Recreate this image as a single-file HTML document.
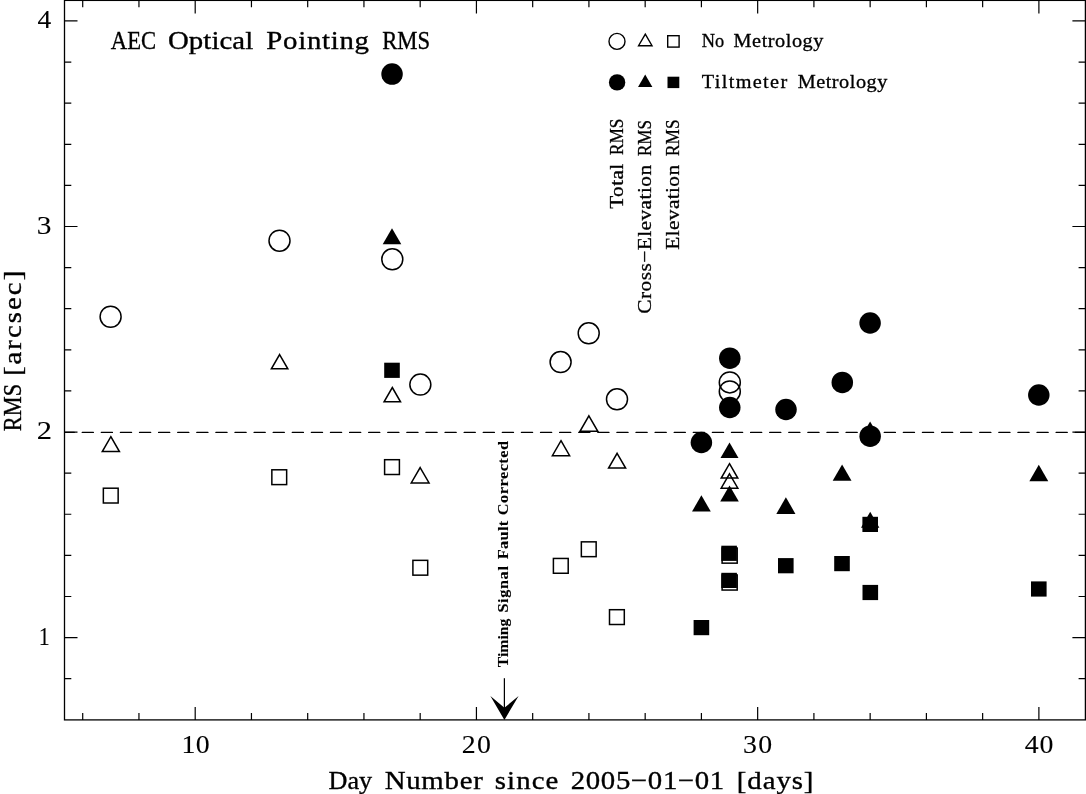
<!DOCTYPE html>
<html><head><meta charset="utf-8"><style>
html,body{margin:0;padding:0;background:#fff;width:1086px;height:794px;overflow:hidden;}
svg{display:block;filter:grayscale(100%);}
</style></head><body>
<svg width="1086" height="794" viewBox="0 0 1086 794">
<defs><clipPath id="pc"><rect x="64.5" y="0" width="1020.9000000000001" height="794"/></clipPath></defs>
<rect width="1086" height="794" fill="#fff"/>
<rect x="64.5" y="0.4" width="1020.90" height="719.50" fill="none" stroke="#000" stroke-width="1.3"/>
<path d="M82.71 719.9V713.10M82.71 0.4V7.20M138.95 719.9V713.10M138.95 0.4V7.20M195.20 719.9V706.90M195.20 0.4V13.40M251.45 719.9V713.10M251.45 0.4V7.20M307.69 719.9V713.10M307.69 0.4V7.20M363.94 719.9V713.10M363.94 0.4V7.20M420.18 719.9V713.10M420.18 0.4V7.20M476.43 719.9V706.90M476.43 0.4V13.40M532.68 719.9V713.10M532.68 0.4V7.20M588.92 719.9V713.10M588.92 0.4V7.20M645.17 719.9V713.10M645.17 0.4V7.20M701.41 719.9V713.10M701.41 0.4V7.20M757.66 719.9V706.90M757.66 0.4V13.40M813.91 719.9V713.10M813.91 0.4V7.20M870.15 719.9V713.10M870.15 0.4V7.20M926.40 719.9V713.10M926.40 0.4V7.20M982.64 719.9V713.10M982.64 0.4V7.20M1038.89 719.9V706.90M1038.89 0.4V13.40M64.5 678.71H71.30M1085.4 678.71H1078.60M64.5 637.60H77.50M1085.4 637.60H1072.40M64.5 596.49H71.30M1085.4 596.49H1078.60M64.5 555.38H71.30M1085.4 555.38H1078.60M64.5 514.27H71.30M1085.4 514.27H1078.60M64.5 473.16H71.30M1085.4 473.16H1078.60M64.5 432.05H77.50M1085.4 432.05H1072.40M64.5 390.94H71.30M1085.4 390.94H1078.60M64.5 349.83H71.30M1085.4 349.83H1078.60M64.5 308.72H71.30M1085.4 308.72H1078.60M64.5 267.61H71.30M1085.4 267.61H1078.60M64.5 226.50H77.50M1085.4 226.50H1072.40M64.5 185.39H71.30M1085.4 185.39H1078.60M64.5 144.28H71.30M1085.4 144.28H1078.60M64.5 103.17H71.30M1085.4 103.17H1078.60M64.5 62.06H71.30M1085.4 62.06H1078.60M64.5 20.95H77.50M1085.4 20.95H1072.40" stroke="#000" stroke-width="1.2" fill="none"/>
<line x1="63.15" y1="432.4" x2="1085.4" y2="432.4" stroke="#000" stroke-width="1.35" stroke-linecap="round" stroke-dasharray="11.1 7.996" clip-path="url(#pc)"/>
<circle cx="110.6" cy="316.75" r="10.5" fill="none" stroke="#000" stroke-width="1.5"/>
<circle cx="279.5" cy="240.7" r="10.5" fill="none" stroke="#000" stroke-width="1.5"/>
<circle cx="392.3" cy="259.3" r="10.5" fill="none" stroke="#000" stroke-width="1.5"/>
<circle cx="420.35" cy="384.6" r="10.5" fill="none" stroke="#000" stroke-width="1.5"/>
<circle cx="560.6" cy="362.05" r="10.5" fill="none" stroke="#000" stroke-width="1.5"/>
<circle cx="588.7" cy="333.3" r="10.5" fill="none" stroke="#000" stroke-width="1.5"/>
<circle cx="617" cy="399.3" r="10.5" fill="none" stroke="#000" stroke-width="1.5"/>
<circle cx="729.8" cy="382.4" r="10.5" fill="none" stroke="#000" stroke-width="1.5"/>
<circle cx="729.8" cy="391.5" r="10.5" fill="none" stroke="#000" stroke-width="1.5"/>
<path d="M110.85 436.70L119.42 451.55L102.28 451.55Z" fill="none" stroke="#000" stroke-width="1.5" stroke-linejoin="miter"/>
<path d="M279.60 354.60L287.83 368.85L271.37 368.85Z" fill="none" stroke="#000" stroke-width="1.5" stroke-linejoin="miter"/>
<path d="M392.30 387.50L400.53 401.75L384.07 401.75Z" fill="none" stroke="#000" stroke-width="1.5" stroke-linejoin="miter"/>
<path d="M420.15 467.50L429.07 482.95L411.23 482.95Z" fill="none" stroke="#000" stroke-width="1.5" stroke-linejoin="miter"/>
<path d="M561.00 440.70L569.63 455.65L552.37 455.65Z" fill="none" stroke="#000" stroke-width="1.5" stroke-linejoin="miter"/>
<path d="M588.90 415.80L597.82 431.25L579.98 431.25Z" fill="none" stroke="#000" stroke-width="1.5" stroke-linejoin="miter"/>
<path d="M617.10 453.30L625.62 468.05L608.58 468.05Z" fill="none" stroke="#000" stroke-width="1.5" stroke-linejoin="miter"/>
<path d="M729.50 463.70L737.78 478.05L721.22 478.05Z" fill="none" stroke="#000" stroke-width="1.5" stroke-linejoin="miter"/>
<path d="M729.50 473.80L737.84 488.25L721.16 488.25Z" fill="none" stroke="#000" stroke-width="1.5" stroke-linejoin="miter"/>
<rect x="103.35" y="488.20" width="14.80" height="14.80" fill="none" stroke="#000" stroke-width="1.5"/>
<rect x="271.85" y="469.80" width="14.80" height="14.80" fill="none" stroke="#000" stroke-width="1.5"/>
<rect x="384.60" y="459.70" width="14.80" height="14.80" fill="none" stroke="#000" stroke-width="1.5"/>
<rect x="412.90" y="560.35" width="14.80" height="14.80" fill="none" stroke="#000" stroke-width="1.5"/>
<rect x="553.40" y="558.45" width="14.80" height="14.80" fill="none" stroke="#000" stroke-width="1.5"/>
<rect x="581.35" y="541.85" width="14.80" height="14.80" fill="none" stroke="#000" stroke-width="1.5"/>
<rect x="609.50" y="609.70" width="14.80" height="14.80" fill="none" stroke="#000" stroke-width="1.5"/>
<rect x="722.10" y="548.05" width="15.10" height="15.10" fill="none" stroke="#000" stroke-width="1.5"/>
<rect x="722.10" y="574.95" width="15.10" height="15.10" fill="none" stroke="#000" stroke-width="1.5"/>
<path d="M392.00 228.20L401.30 244.30L382.70 244.30Z" fill="#000"/>
<path d="M701.40 495.30L710.81 511.60L691.99 511.60Z" fill="#000"/>
<path d="M729.50 442.40L738.51 458.00L720.49 458.00Z" fill="#000"/>
<path d="M729.50 485.50L738.80 501.60L720.20 501.60Z" fill="#000"/>
<path d="M785.90 497.30L795.48 513.90L776.32 513.90Z" fill="#000"/>
<path d="M842.10 464.50L851.51 480.80L832.69 480.80Z" fill="#000"/>
<path d="M870.10 421.50L879.40 437.60L860.80 437.60Z" fill="#000"/>
<path d="M870.20 511.80L879.38 527.70L861.02 527.70Z" fill="#000"/>
<path d="M1038.80 464.80L1048.27 481.20L1029.33 481.20Z" fill="#000"/>
<rect x="384.20" y="362.70" width="15.60" height="15.20" fill="#000"/>
<rect x="693.60" y="620.00" width="15.60" height="15.20" fill="#000"/>
<rect x="721.30" y="545.70" width="15.60" height="15.20" fill="#000"/>
<rect x="721.30" y="572.80" width="15.60" height="15.20" fill="#000"/>
<rect x="778.00" y="558.10" width="15.60" height="15.20" fill="#000"/>
<rect x="834.20" y="556.00" width="15.60" height="15.20" fill="#000"/>
<rect x="862.40" y="516.80" width="15.60" height="15.20" fill="#000"/>
<rect x="862.50" y="584.90" width="15.60" height="15.20" fill="#000"/>
<rect x="1031.00" y="581.40" width="15.60" height="15.20" fill="#000"/>
<circle cx="392.05" cy="74.1" r="10.75" fill="#000"/>
<circle cx="701.4" cy="442.5" r="10.75" fill="#000"/>
<circle cx="729.8" cy="358.15" r="10.75" fill="#000"/>
<circle cx="729.8" cy="407.5" r="10.75" fill="#000"/>
<circle cx="786" cy="409.5" r="10.75" fill="#000"/>
<circle cx="842.3" cy="382.4" r="10.75" fill="#000"/>
<circle cx="870.1" cy="323" r="10.75" fill="#000"/>
<circle cx="870.15" cy="436.2" r="10.75" fill="#000"/>
<circle cx="1038.8" cy="395" r="10.75" fill="#000"/>
<circle cx="617" cy="41.4" r="8.0" fill="none" stroke="#000" stroke-width="1.4"/>
<path d="M645.30 34.10L652.03 45.75L638.57 45.75Z" fill="none" stroke="#000" stroke-width="1.4" stroke-linejoin="miter"/>
<rect x="667.70" y="35.70" width="11.40" height="11.40" fill="none" stroke="#000" stroke-width="1.4"/>
<circle cx="617.1" cy="82.4" r="8.2" fill="#000"/>
<path d="M645.20 74.60L652.36 87.00L638.04 87.00Z" fill="#000"/>
<rect x="667.50" y="76.70" width="11.80" height="11.40" fill="#000"/>
<line x1="504.4" y1="678.2" x2="504.4" y2="712" stroke="#000" stroke-width="1.25"/>
<path d="M504.4 719.9L490.4 696L504.4 707.8L518.6 696Z" fill="#000"/>
<g transform="translate(0 49)" font-family="Liberation Serif" font-size="26.2" fill="#000" stroke="#000" stroke-width="0.35"><text transform="translate(110.90 0) scale(0.8649 1)" x="-0.06" y="0" textLength="52.40" lengthAdjust="spacing">AEC</text><text transform="translate(168.90 0) scale(1.1000 1)" x="-0.92" y="0" textLength="77.63" lengthAdjust="spacing">Optical</text><text transform="translate(267.00 0) scale(1.1000 1)" x="-0.60" y="0" textLength="93.29" lengthAdjust="spacing">Pointing</text><text transform="translate(382.70 0) scale(0.8678 1)" x="-0.56" y="0" textLength="55.34" lengthAdjust="spacing">RMS</text></g>
<g transform="translate(0 789.2)" font-family="Liberation Serif" font-size="26.2" fill="#000" stroke="#000" stroke-width="0.35"><text transform="translate(329.10 0) scale(0.9992 1)" x="-0.58" y="0" textLength="43.65" lengthAdjust="spacing">Day</text><text transform="translate(385.30 0) scale(1.1000 1)" x="-0.60" y="0" textLength="89.22" lengthAdjust="spacing">Number</text><text transform="translate(495.80 0) scale(1.1000 1)" x="-0.92" y="0" textLength="57.76" lengthAdjust="spacing">since</text><text transform="translate(571.90 0) scale(1.1000 1)" x="-0.99" y="0" textLength="139.50" lengthAdjust="spacing">2005&#8722;01&#8722;01</text><text transform="translate(738.80 0) scale(1.1000 1)" x="-1.78" y="0" textLength="69.65" lengthAdjust="spacing">[days]</text></g>
<g transform="translate(21 0) rotate(-90)" font-family="Liberation Serif" font-size="26.2" fill="#000" stroke="#000" stroke-width="0.35"><text transform="translate(-430.70 0) scale(0.8546 1)" x="-0.56" y="0" textLength="55.34" lengthAdjust="spacing">RMS</text><text transform="translate(-374.10 0) scale(1.1000 1)" x="-1.78" y="0" textLength="95.73" lengthAdjust="spacing">[arcsec]</text></g>
<g transform="translate(0 28.0)" font-family="Liberation Serif" font-size="25.3" fill="#000" stroke="#000" stroke-width="0.1"><text x="37.59" y="0" textLength="13.75" lengthAdjust="spacingAndGlyphs">4</text></g>
<g transform="translate(0 233.8)" font-family="Liberation Serif" font-size="25.3" fill="#000" stroke="#000" stroke-width="0.1"><text x="36.70" y="0" textLength="14.70" lengthAdjust="spacingAndGlyphs">3</text></g>
<g transform="translate(0 439.2)" font-family="Liberation Serif" font-size="25.3" fill="#000" stroke="#000" stroke-width="0.1"><text x="36.77" y="0" textLength="15.26" lengthAdjust="spacingAndGlyphs">2</text></g>
<g transform="translate(0 645.1)" font-family="Liberation Serif" font-size="25.3" fill="#000" stroke="#000" stroke-width="0.1"><text x="38.73" y="0" textLength="10.94" lengthAdjust="spacingAndGlyphs">1</text></g>
<g transform="translate(0 752.9)" font-family="Liberation Serif" font-size="25.3" fill="#000" stroke="#000" stroke-width="0.1"><text transform="translate(183.80 0) scale(1.1000 1)" x="-2.18" y="0" textLength="25.73" lengthAdjust="spacing">10</text></g>
<g transform="translate(0 752.9)" font-family="Liberation Serif" font-size="25.3" fill="#000" stroke="#000" stroke-width="0.1"><text transform="translate(463.00 0) scale(1.1000 1)" x="-1.07" y="0" textLength="26.35" lengthAdjust="spacing">20</text></g>
<g transform="translate(0 752.9)" font-family="Liberation Serif" font-size="25.3" fill="#000" stroke="#000" stroke-width="0.1"><text transform="translate(744.25 0) scale(1.1000 1)" x="-1.17" y="0" textLength="26.58" lengthAdjust="spacing">30</text></g>
<g transform="translate(0 752.9)" font-family="Liberation Serif" font-size="25.3" fill="#000" stroke="#000" stroke-width="0.1"><text transform="translate(1025.20 0) scale(1.1000 1)" x="-0.44" y="0" textLength="26.17" lengthAdjust="spacing">40</text></g>
<g transform="translate(0 47.1)" font-family="Liberation Serif" font-size="18.4" fill="#000" stroke="#000" stroke-width="0.3"><text transform="translate(702.00 0) scale(0.9976 1)" x="-0.38" y="0" textLength="22.49" lengthAdjust="spacing">No</text><text transform="translate(734.00 0) scale(1.1000 1)" x="-0.40" y="0" textLength="81.69" lengthAdjust="spacing">Metrology</text></g>
<g transform="translate(0 87.6)" font-family="Liberation Serif" font-size="18.4" fill="#000" stroke="#000" stroke-width="0.3"><text transform="translate(702.00 0) scale(1.1000 1)" x="-0.19" y="0" textLength="77.58" lengthAdjust="spacing">Tiltmeter</text><text transform="translate(798.10 0) scale(1.1000 1)" x="-0.40" y="0" textLength="81.51" lengthAdjust="spacing">Metrology</text></g>
<g transform="translate(622.8 0) rotate(-90)" font-family="Liberation Serif" font-size="19.4" fill="#000" stroke="#000" stroke-width="0.3"><text transform="translate(-208.60 0) scale(1.1000 1)" x="-0.21" y="0" textLength="41.00" lengthAdjust="spacing">Total</text><text transform="translate(-154.70 0) scale(0.8901 1)" x="-0.39" y="0" textLength="40.98" lengthAdjust="spacing">RMS</text></g>
<g transform="translate(650.7 0) rotate(-90)" font-family="Liberation Serif" font-size="19.4" fill="#000" stroke="#000" stroke-width="0.3"><text transform="translate(-313.00 0) scale(1.1000 1)" x="-0.66" y="0" textLength="135.27" lengthAdjust="spacing">Cross&#8722;Elevation</text><text transform="translate(-155.70 0) scale(0.8825 1)" x="-0.39" y="0" textLength="40.98" lengthAdjust="spacing">RMS</text></g>
<g transform="translate(678.7 0) rotate(-90)" font-family="Liberation Serif" font-size="19.4" fill="#000" stroke="#000" stroke-width="0.3"><text transform="translate(-249.20 0) scale(1.1000 1)" x="-0.43" y="0" textLength="77.04" lengthAdjust="spacing">Elevation</text><text transform="translate(-155.70 0) scale(0.8927 1)" x="-0.39" y="0" textLength="40.98" lengthAdjust="spacing">RMS</text></g>
<g transform="translate(508.3 0) rotate(-90)" font-family="Liberation Serif" font-size="14.8" font-weight="bold" fill="#000" stroke="#000" stroke-width="0.1"><text transform="translate(-667.00 0) scale(1.0615 1)" x="-0.19" y="0" textLength="45.79" lengthAdjust="spacing">Timing</text><text transform="translate(-611.80 0) scale(1.1000 1)" x="-0.74" y="0" textLength="42.31" lengthAdjust="spacing">Signal</text><text transform="translate(-558.90 0) scale(1.1000 1)" x="-0.21" y="0" textLength="34.85" lengthAdjust="spacing">Fault</text><text transform="translate(-514.50 0) scale(1.1000 1)" x="-0.68" y="0" textLength="67.62" lengthAdjust="spacing">Corrected</text></g>
</svg>
</body></html>
